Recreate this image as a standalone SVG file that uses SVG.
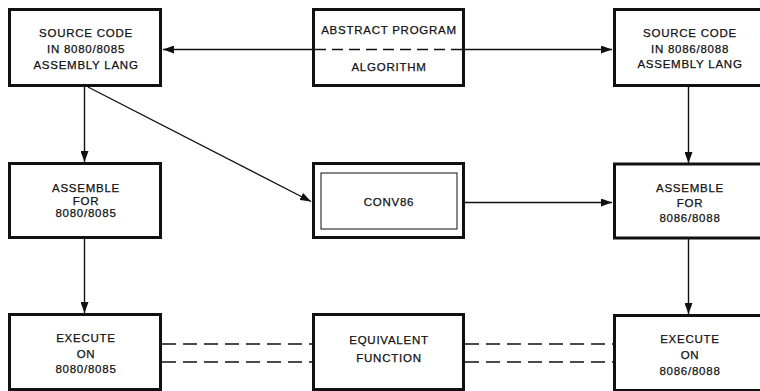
<svg xmlns="http://www.w3.org/2000/svg" width="760" height="391" viewBox="0 0 760 391">
<defs>
<marker id="ah" viewBox="0 0 11 8" refX="11" refY="4" markerWidth="11" markerHeight="8" markerUnits="userSpaceOnUse" orient="auto">
<path d="M0,0 L11,4 L0,8 Z" fill="#111"/>
</marker>
<style>
.box{fill:#fff;stroke:#111;stroke-width:3}
.inner{fill:none;stroke:#111;stroke-width:1}
.arr{fill:none;stroke:#111;stroke-width:1.4;marker-end:url(#ah)}
.dash{fill:none;stroke:#111;stroke-width:1.6;stroke-dasharray:14 7}
.dash2{fill:none;stroke:#111;stroke-width:1.4;stroke-dasharray:11 6}
text{font-family:"Liberation Sans",Arial,sans-serif;font-size:11.5px;letter-spacing:0.75px;fill:#111;text-anchor:middle;stroke:#111;stroke-width:0.25}
</style>
</defs>
<rect width="760" height="391" fill="#fff"/>
<g id="connectors">
<path class="arr" d="M313,49.5 L163,49.5"/>
<path class="arr" d="M465,49.5 L612,49.5"/>
<path class="arr" d="M84.5,87 L84.5,162"/>
<path class="arr" d="M688.5,87 L688.5,163"/>
<path class="arr" d="M88,87 L311,201.5"/>
<path class="arr" d="M465,202.5 L612,202.5"/>
<path class="arr" d="M84.5,239 L84.5,313"/>
<path class="arr" d="M688.5,239 L688.5,314"/>
<path class="dash" d="M162,344 L312,344"/>
<path class="dash" d="M162,362 L312,362"/>
<path class="dash" d="M465,344 L613,344"/>
<path class="dash" d="M465,362 L613,362"/>
</g>
<g id="src8080">
<rect class="box" x="9.5" y="9.5" width="151" height="76"/>
<text x="86" y="37">SOURCE CODE</text>
<text x="86" y="53">IN 8080/8085</text>
<text x="86" y="69">ASSEMBLY LANG</text>
</g>
<g id="abstract">
<rect class="box" x="313.5" y="9.5" width="150" height="76"/>
<path class="dash2" d="M315,49.5 L462,49.5"/>
<text x="389" y="34">ABSTRACT PROGRAM</text>
<text x="389" y="71">ALGORITHM</text>
</g>
<g id="src8086">
<rect class="box" x="614.5" y="9.5" width="150" height="76"/>
<text x="690" y="37">SOURCE CODE</text>
<text x="690" y="53">IN 8086/8088</text>
<text x="690" y="68">ASSEMBLY LANG</text>
</g>
<g id="asm8080">
<rect class="box" x="9.5" y="163.5" width="151" height="74"/>
<text x="86" y="192">ASSEMBLE</text>
<text x="86" y="204.5">FOR</text>
<text x="86" y="217">8080/8085</text>
</g>
<g id="conv86">
<rect class="box" x="313.5" y="163.5" width="150" height="74"/>
<rect class="inner" x="321" y="173" width="136" height="56"/>
<text x="389" y="206">CONV86</text>
</g>
<g id="asm8086">
<rect class="box" x="614.5" y="164" width="150" height="74"/>
<text x="690" y="192">ASSEMBLE</text>
<text x="690" y="207">FOR</text>
<text x="690" y="222">8086/8088</text>
</g>
<g id="exec8080">
<rect class="box" x="9.5" y="314.5" width="151" height="75"/>
<text x="86" y="342">EXECUTE</text>
<text x="86" y="357.5">ON</text>
<text x="86" y="373">8080/8085</text>
</g>
<g id="equiv">
<rect class="box" x="313.5" y="314.5" width="150" height="75"/>
<text x="389" y="343.5">EQUIVALENT</text>
<text x="389" y="362">FUNCTION</text>
</g>
<g id="exec8086">
<rect class="box" x="614.5" y="315.5" width="150" height="75"/>
<text x="690" y="343">EXECUTE</text>
<text x="690" y="359">ON</text>
<text x="690" y="375">8086/8088</text>
</g>
</svg>
